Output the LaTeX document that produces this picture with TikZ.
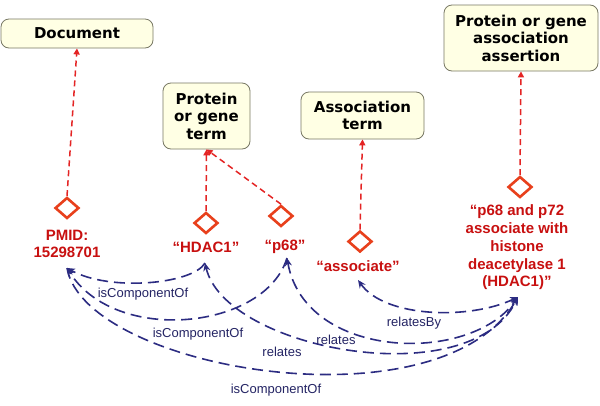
\documentclass[tikz,border=0pt]{standalone}
\usepackage{fontspec}
\setmainfont{Liberation Sans}
\newfontfamily\boxfont{DejaVu Sans}
\usetikzlibrary{shapes.geometric,arrows.meta}
\definecolor{boxfill}{RGB}{255,255,228}
\definecolor{boxline}{RGB}{120,120,100}
\definecolor{dia}{RGB}{232,64,28}
\definecolor{linkred}{RGB}{228,36,36}
\definecolor{valred}{RGB}{200,16,16}
\definecolor{relblue}{RGB}{44,44,130}
\definecolor{lblblue}{RGB}{36,36,100}
\begin{document}
\begin{tikzpicture}[x=1pt,y=-1pt,
  box/.style={draw=boxline, fill=boxfill, rounded corners=8pt, line width=0.8pt,
    font=\boxfont\bfseries\fontsize{15}{17.5}\selectfont, align=center, inner sep=0pt},
  gem/.style={diamond, draw=dia, line width=2.6pt, minimum width=24pt, minimum height=21pt, inner sep=0pt},
  val/.style={text=valred, font=\bfseries\fontsize{15}{17.8}\selectfont, align=center, inner sep=0pt},
  link/.style={draw=linkred, line width=1.5pt, dash pattern=on 6pt off 4pt, -{Triangle[length=6pt,width=6pt]}},
  rel/.style={draw=relblue, line width=1.6pt, dash pattern=on 11pt off 6pt, -{Stealth[length=8pt,width=7pt]}},
  relb/.style={draw=relblue, line width=1.6pt, dash pattern=on 11pt off 6pt, {Stealth[length=8pt,width=7pt]}-{Stealth[length=8pt,width=7pt]}},
  lbl/.style={text=lblblue, font=\fontsize{13}{15}\selectfont, inner sep=0pt}]
\useasboundingbox (0,0) rectangle (600,405);
\fill[white] (0,0) rectangle (600,405);

% boxes
\node[box, minimum width=152pt, minimum height=29pt] (doc) at (77,33.5) {Document};
\node[box, minimum width=87pt, minimum height=66pt] (pterm) at (206.5,116) {Protein\\or gene\\term};
\node[box, minimum width=123pt, minimum height=47pt] (aterm) at (362.5,115.5) {Association\\term};
\node[box, minimum width=154pt, minimum height=66pt] (aass) at (521,38) {Protein or gene\\association\\assertion};

% diamonds
\node[gem] (d1) at (67,208) {};
\node[gem] (d2) at (206,223) {};
\node[gem] (d3) at (281,216) {};
\node[gem] (d4) at (360,241.5) {};
\node[gem] (d5) at (520,187) {};

% value texts
\node[val] (vpmid) at (67,244) {PMID:\\15298701};
\node[val] (vhdac) at (206,247) {“HDAC1”};
\node[val] (vp68) at (285,247) {“p68”};
\node[val] (vassoc) at (358,266) {“associate”};
\node[val] (vass) at (517,247.5) {“p68 and p72\\associate with\\histone\\deacetylase 1\\(HDAC1)”};

% red links
\draw[link] (d1.north) -- (doc.south);
\draw[link] (d2.north) -- (pterm.south);
\draw[link] (d3.north) -- (pterm.south);
\draw[link] (d4.north) -- (aterm.south);
\draw[link] (d5.north) -- (aass.south);

% blue relation endpoints
\coordinate (tpmid) at (67,268);
\coordinate (thdac) at (205,263);
\coordinate (tp68) at (287,258);
\coordinate (tassoc) at (358,280);
\coordinate (tass) at (518,297);

\draw[rel] (thdac) .. controls (193,284) and (110,292) .. (tpmid);
\draw[rel] (tp68) .. controls (265,330) and (115,345) .. (tpmid);
\draw[relb] (thdac) .. controls (225,350) and (470,395) .. (tass);
\draw[relb] (tp68) .. controls (305,360) and (470,365) .. (tass);
\draw[relb] (tassoc) .. controls (385,318) and (470,320) .. (tass);
\draw[rel] (tpmid) .. controls (85,370) and (440,430) .. (tass);

% labels
\node[lbl] (l1) at (143,294) {isComponentOf};
\node[lbl] (l2) at (198,334) {isComponentOf};
\node[lbl] (l3) at (282,352) {relates};
\node[lbl] (l4) at (336,340) {relates};
\node[lbl] (l5) at (414,323) {relatesBy};
\node[lbl] (l6) at (276,390) {isComponentOf};
\end{tikzpicture}
\end{document}
